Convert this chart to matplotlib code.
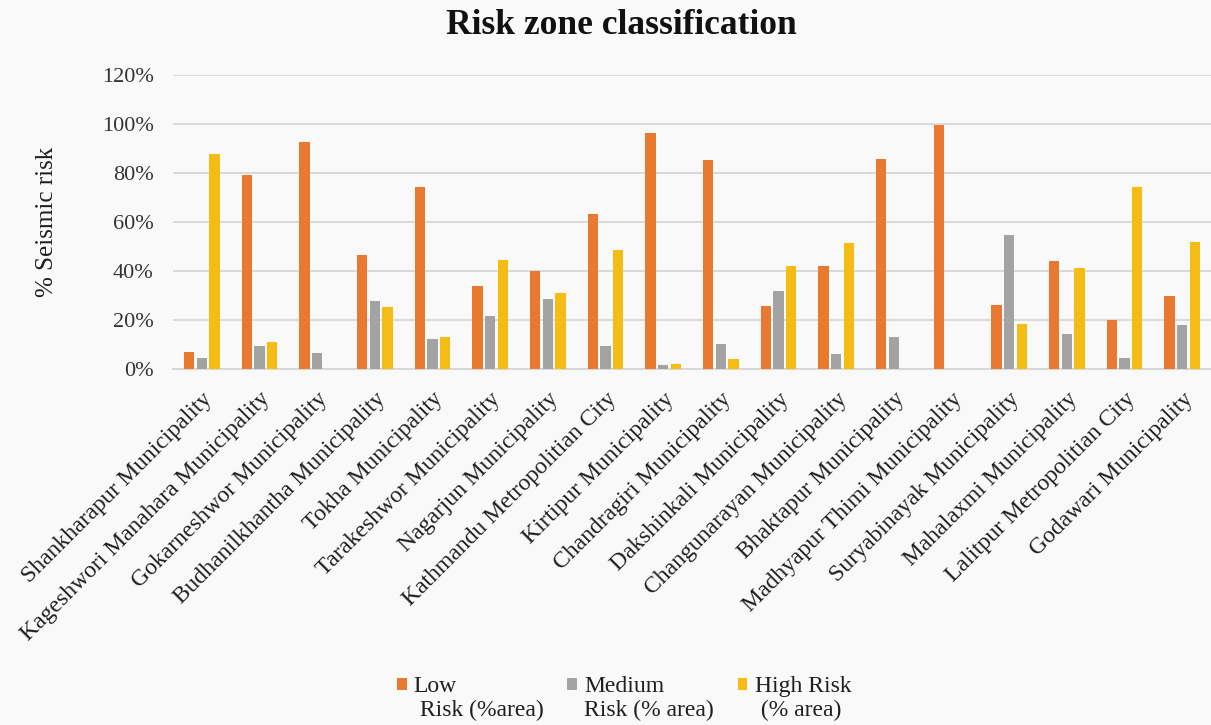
import matplotlib
matplotlib.use("Agg")
import matplotlib.pyplot as plt
import numpy as np
from matplotlib.patches import Rectangle
from matplotlib.legend_handler import HandlerPatch
from matplotlib.container import BarContainer

categories = [
    "Shankharapur Municipality",
    "Kageshwori Manahara Municipality",
    "Gokarneshwor Municipality",
    "Budhanilkhantha Municipality",
    "Tokha Municipality",
    "Tarakeshwor Municipality",
    "Nagarjun Municipality",
    "Kathmandu Metropolitian City",
    "Kirtipur Municipality",
    "Chandragiri Municipality",
    "Dakshinkali Municipality",
    "Changunarayan Municipality",
    "Bhaktapur Municipality",
    "Madhyapur Thimi Municipality",
    "Suryabinayak Municipality",
    "Mahalaxmi Municipality",
    "Lalitpur Metropolitian City",
    "Godawari Municipality",
]
low_risk = [7.1, 79.2, 92.6, 46.5, 74.4, 33.7, 40.2, 63.1, 96.3,
            85.4, 25.7, 42.0, 85.8, 99.5, 26.3, 44.0, 20.2, 29.8]
medium_risk = [4.6, 9.3, 6.7, 27.8, 12.4, 21.7, 28.5, 9.3, 1.5,
               10.2, 32.0, 6.1, 12.9, 0.0, 54.8, 14.4, 4.6, 18.0]
high_risk = [87.9, 11.2, 0.0, 25.5, 13.1, 44.6, 31.1, 48.5, 2.0,
             4.1, 42.0, 51.4, 0.0, 0.0, 18.5, 41.4, 74.4, 51.8]
series_labels = ["Low\n Risk (%area)", "Medium\nRisk (% area)", "High Risk\n (% area)"]
yticks = [0, 20, 40, 60, 80, 100, 120]

colors = ["#E8792F", "#A3A3A3", "#F5BC14"]
bg = "#f9f9f9"
serif = ["Liberation Serif", "DejaVu Serif"]

fig = plt.figure(figsize=(12.11, 7.25), dpi=100, facecolor=bg)
ax = fig.add_axes([173 / 1211, 1 - 369 / 725, (1211 - 173) / 1211, (369 - 75) / 725])
ax.set_facecolor(bg)

x = np.arange(len(categories))
offset = 0.22
width = 0.175
for i, (vals, c, lab) in enumerate(zip([low_risk, medium_risk, high_risk], colors, series_labels)):
    ax.bar(x + (i - 1) * offset, vals, width=width, color=c, label=lab, zorder=3)

ax.set_xlim(-0.5, len(categories) - 0.5)
ax.set_ylim(0, 120)
ax.set_yticks(yticks)
ax.set_yticklabels([f"{v}%" for v in yticks], fontfamily=serif, fontsize=16, color="#333333")
ax.tick_params(axis="y", length=0, pad=14)
ax.tick_params(axis="x", length=0, pad=14)
ax.set_xticks(x)
ax.set_xticklabels(categories, rotation=45, ha="right", va="top", rotation_mode="anchor",
                   fontfamily=serif, fontsize=17, color="#1f1f1f")
ax.grid(axis="y", color="#d6d6d6", linewidth=1.3, zorder=0)
for s in ["top", "right", "left"]:
    ax.spines[s].set_visible(False)
ax.spines["bottom"].set_color("#d6d6d6")
ax.spines["bottom"].set_linewidth(1.3)

ax.set_ylabel("% Seismic risk", fontfamily=serif, fontsize=18, color="#1f1f1f")
ax.yaxis.set_label_coords(-0.111, 0.5)

fig.text(621 / 1211, 1 - 34 / 725, "Risk zone classification", ha="center", va="baseline",
         fontfamily=serif, fontweight="bold", fontsize=25.5, color="#111111")


def make_patch(legend, orig_handle, xdescent, ydescent, width, height, fontsize):
    return Rectangle((-xdescent, -ydescent + 10), width, height)


def first_child(legend_handle, orig_handle):
    legend_handle.update_from(orig_handle[0])


leg = fig.legend(loc="upper center", bbox_to_anchor=(624 / 1211, 1 - 676 / 725), ncol=3,
                 frameon=False, prop={"family": serif, "size": 17},
                 handlelength=0.42, handleheight=0.42, handletextpad=0.3,
                 columnspacing=1.0, borderpad=0, borderaxespad=0,
                 handler_map={BarContainer: HandlerPatch(patch_func=make_patch,
                                                         update_func=first_child)})
for t in leg.get_texts():
    t.set_linespacing(1.15)
    t.set_color("#1f1f1f")

fig.savefig("out.png", dpi=100, facecolor=bg)
